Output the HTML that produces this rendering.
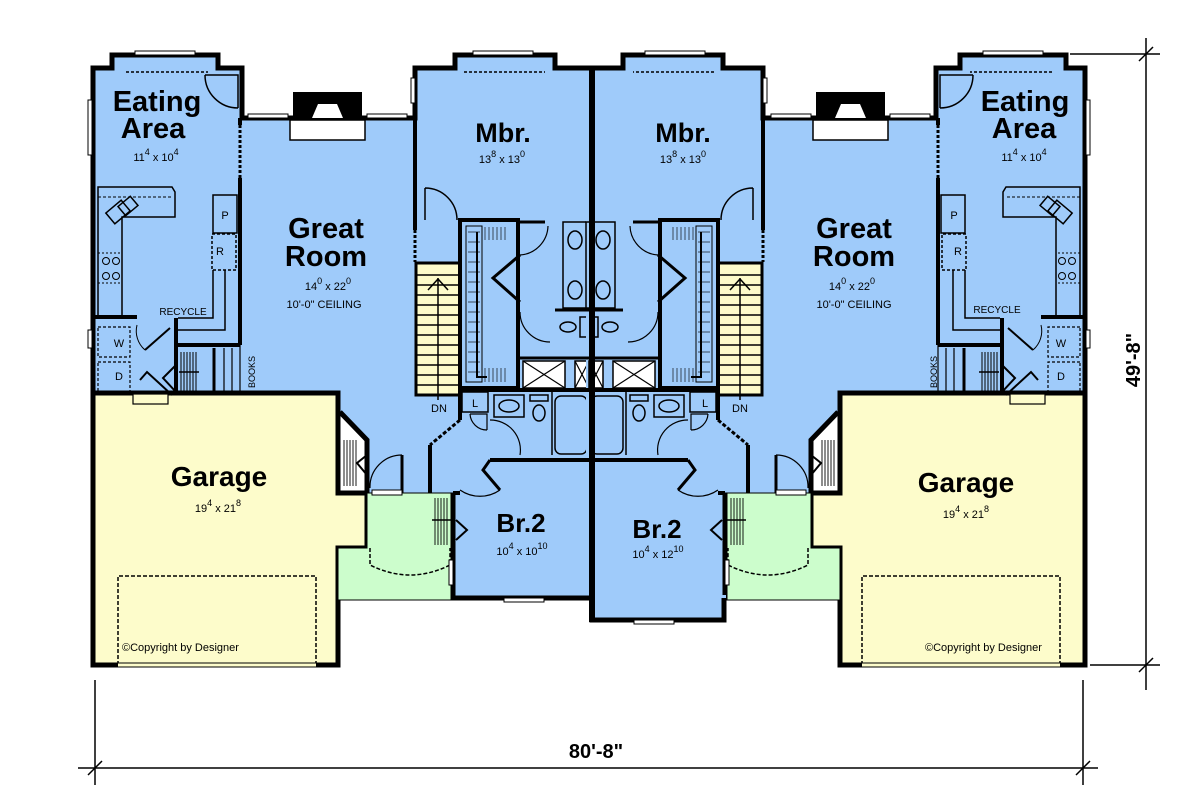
<!DOCTYPE html>
<html><head><meta charset="utf-8"><style>
html,body{margin:0;padding:0;background:#fff;}
svg{display:block;}
.t{font-family:"Liberation Sans",Arial,sans-serif;fill:#000;}
.b{font-weight:bold;}
</style></head><body>
<svg width="1200" height="801" viewBox="0 0 1200 801" xmlns="http://www.w3.org/2000/svg">
<defs>
<g id="L">
  <!-- blue floor -->
  <polygon points="93,68 112,68 112,55 218,55 218,68 242,68 242,118 415,118 415,68 455,68 455,55 555,55 555,68 592,68 592,598 453,598 453,493 367,493 367,440 338,412 338,393 93,393" fill="#9fcbfa"/>
  <!-- garage -->
  <polygon points="93,393 338,393 338,493 367,493 367,548 338,548 338,665 93,665" fill="#fdfccb" stroke="#000" stroke-width="5"/>
  <!-- porch -->
  <polygon points="367,493 453,493 453,600 338,600 338,548 367,548" fill="#ccfdcc" stroke="#000" stroke-width="1"/>
  <path d="M370,548 L370,565 Q410,585 450,565 L450,548" fill="none" stroke="#000" stroke-width="1.5" stroke-dasharray="4,2"/>
  <!-- outer walls -->
  <polyline points="93,393 93,68 112,68 112,55 218,55 218,68 242,68 242,118 415,118 415,68 455,68 455,55 555,55 555,68 592,68" fill="none" stroke="#000" stroke-width="5"/>
  <polyline points="338,400 338,393" fill="none" stroke="#000" stroke-width="5"/>
  <polyline points="453,493 453,598 592,598" fill="none" stroke="#000" stroke-width="5"/>
  <polyline points="367,493 367,440 340,412" fill="none" stroke="#000" stroke-width="5"/>
  <!-- windows -->
  <rect x="135" y="51" width="60" height="4" fill="#fff" stroke="#000" stroke-width="1"/>
  <rect x="473" y="51" width="60" height="4" fill="#fff" stroke="#000" stroke-width="1"/>
  <rect x="88" y="100" width="4" height="55" fill="#fff" stroke="#000" stroke-width="1"/>
  <rect x="248" y="114" width="40" height="4" fill="#fff" stroke="#000" stroke-width="1"/>
  <rect x="367" y="114" width="40" height="4" fill="#fff" stroke="#000" stroke-width="1"/>
  <rect x="411" y="78" width="4" height="25" fill="#fff" stroke="#000" stroke-width="1"/>
  <rect x="88" y="330" width="4" height="18" fill="#fff" stroke="#000" stroke-width="1"/>
  <rect x="504" y="598" width="40" height="4" fill="#fff" stroke="#000" stroke-width="1"/>
  <rect x="449" y="560" width="4" height="25" fill="#fff" stroke="#000" stroke-width="1"/>
  <line x1="126" y1="72" x2="208" y2="72" stroke="#000" stroke-width="1.5" stroke-dasharray="3,2"/>
  <line x1="464" y1="72" x2="545" y2="72" stroke="#000" stroke-width="1.5" stroke-dasharray="3,2"/>
  <!-- fireplace -->
  <rect x="293" y="92" width="69" height="26" fill="#000"/>
  <polygon points="312,118 343,118 337,104 318,104" fill="#fff"/>
  <rect x="290" y="120" width="75" height="20" fill="#fff" stroke="#000" stroke-width="1.5"/>
  <!-- eating door -->
  <path d="M205,75 L238,75 L238,108 M205,75 A33,33 0 0 0 238,108" fill="none" stroke="#000" stroke-width="1.5"/>
  <!-- eating/great wall -->
  <line x1="240" y1="118" x2="240" y2="125" stroke="#000" stroke-width="4"/>
  <line x1="240" y1="125" x2="240" y2="178" stroke="#000" stroke-width="3" stroke-dasharray="3,2"/>
  <line x1="240" y1="178" x2="240" y2="345" stroke="#000" stroke-width="4"/>
  <!-- kitchen counters -->
  <polygon points="98,187 172,187 175,192 175,217 122,217 122,318 98,318" fill="none" stroke="#000" stroke-width="1.5"/>
  <line x1="98" y1="197" x2="172" y2="197" stroke="#000" stroke-width="1" stroke-dasharray="3,2"/>
  <rect x="108" y="205" width="20" height="14" transform="rotate(-40 118 212)" fill="none" stroke="#000" stroke-width="1.5"/>
  <rect x="120" y="200" width="16" height="12" transform="rotate(-40 128 206)" fill="none" stroke="#000" stroke-width="1.5"/>
  <rect x="98" y="253" width="24" height="30" fill="none" stroke="#000" stroke-width="1" stroke-dasharray="2,2"/>
  <circle cx="106" cy="261" r="3.5" fill="none" stroke="#000"/><circle cx="116" cy="261" r="3.5" fill="none" stroke="#000"/>
  <circle cx="106" cy="276" r="3.5" fill="none" stroke="#000"/><circle cx="116" cy="276" r="3.5" fill="none" stroke="#000"/>
  <rect x="213" y="195" width="24" height="38" fill="none" stroke="#000" stroke-width="1.5"/>
  <rect x="212" y="234" width="24" height="36" fill="none" stroke="#000" stroke-width="1.5" stroke-dasharray="3,2"/>
  <polyline points="213,270 213,318 178,318" fill="none" stroke="#000" stroke-width="1.5"/>
  <polyline points="225,270 225,330 178,330" fill="none" stroke="#000" stroke-width="1.5"/>
  <line x1="178" y1="345" x2="240" y2="345" stroke="#000" stroke-width="4"/>
  <!-- laundry -->
  <line x1="93" y1="317" x2="137" y2="317" stroke="#000" stroke-width="4"/>
  <line x1="176" y1="318" x2="176" y2="393" stroke="#000" stroke-width="4"/>
  <rect x="98" y="327" width="32" height="30" fill="none" stroke="#000" stroke-width="1.2" stroke-dasharray="3,2"/>
  <rect x="98" y="362" width="32" height="30" fill="none" stroke="#000" stroke-width="1.2" stroke-dasharray="3,2"/>
  <line x1="145" y1="350" x2="170" y2="328" stroke="#000" stroke-width="2"/>
  <path d="M137,325 A25,25 0 0 0 145,350" fill="none" stroke="#000" stroke-width="1"/>
  <polyline points="172,395 147,372 140,380" fill="none" stroke="#000" stroke-width="2"/>
  <polyline points="176,365 163,378 176,392" fill="none" stroke="#000" stroke-width="2"/>
  <rect x="133" y="394" width="35" height="10" fill="#fdfccb" stroke="#000" stroke-width="1.2"/>
  <!-- closet hatch / books -->
  <g stroke="#000" stroke-width="1">
    <line x1="181" y1="352" x2="181" y2="391"/><line x1="184" y1="352" x2="184" y2="391"/><line x1="187" y1="352" x2="187" y2="391"/><line x1="190" y1="352" x2="190" y2="391"/><line x1="193" y1="352" x2="193" y2="391"/><line x1="196" y1="352" x2="196" y2="391"/>
  </g>
  <line x1="179" y1="372" x2="199" y2="372" stroke="#000" stroke-width="1.5"/>
  <line x1="214" y1="348" x2="214" y2="393" stroke="#000" stroke-width="3"/>
  <line x1="224" y1="348" x2="224" y2="393" stroke="#000" stroke-width="1.2"/>
  <line x1="232" y1="348" x2="232" y2="393" stroke="#000" stroke-width="1.2"/>
  <line x1="240" y1="345" x2="240" y2="393" stroke="#000" stroke-width="1.2"/>
  <!-- Mbr left wall -->
  <line x1="415" y1="118" x2="415" y2="230" stroke="#000" stroke-width="4"/>
  <line x1="415" y1="230" x2="415" y2="262" stroke="#000" stroke-width="3" stroke-dasharray="3,2"/>
  <path d="M425,188 L425,220 M425,188 A32,32 0 0 1 457,220" fill="none" stroke="#000" stroke-width="1.5"/>
  <!-- stairs -->
  <rect x="416" y="263" width="44" height="132" fill="#fdfbc9" stroke="#000" stroke-width="3"/>
  <g stroke="#000" stroke-width="1.5">
    <line x1="416" y1="275" x2="460" y2="275"/><line x1="416" y1="285" x2="460" y2="285"/><line x1="416" y1="295" x2="460" y2="295"/><line x1="416" y1="305" x2="460" y2="305"/><line x1="416" y1="315" x2="460" y2="315"/><line x1="416" y1="325" x2="460" y2="325"/><line x1="416" y1="335" x2="460" y2="335"/><line x1="416" y1="345" x2="460" y2="345"/><line x1="416" y1="355" x2="460" y2="355"/><line x1="416" y1="365" x2="460" y2="365"/><line x1="416" y1="375" x2="460" y2="375"/><line x1="416" y1="385" x2="460" y2="385"/>
    <line x1="438" y1="278" x2="438" y2="400"/>
    <polyline points="428,290 438,279 448,290" fill="none"/>
  </g>
  <!-- walk-in closet -->
  <rect x="460" y="220" width="58" height="168" fill="none" stroke="#000" stroke-width="4"/>
  <rect x="466" y="226" width="16" height="156" fill="none" stroke="#000" stroke-width="1"/>
  <g stroke="#000" stroke-width="0.8" opacity="0.8">
    <line x1="468" y1="232" x2="480" y2="232"/><line x1="468" y1="242" x2="480" y2="242"/><line x1="468" y1="252" x2="480" y2="252"/><line x1="468" y1="262" x2="480" y2="262"/><line x1="468" y1="272" x2="480" y2="272"/><line x1="468" y1="282" x2="480" y2="282"/><line x1="468" y1="292" x2="480" y2="292"/><line x1="468" y1="302" x2="480" y2="302"/><line x1="468" y1="312" x2="480" y2="312"/><line x1="468" y1="322" x2="480" y2="322"/><line x1="468" y1="332" x2="480" y2="332"/><line x1="468" y1="342" x2="480" y2="342"/><line x1="468" y1="352" x2="480" y2="352"/><line x1="468" y1="362" x2="480" y2="362"/><line x1="468" y1="372" x2="480" y2="372"/>
    <line x1="485" y1="227" x2="485" y2="240"/><line x1="489" y1="227" x2="489" y2="240"/><line x1="493" y1="227" x2="493" y2="240"/><line x1="497" y1="227" x2="497" y2="240"/><line x1="501" y1="227" x2="501" y2="240"/><line x1="505" y1="227" x2="505" y2="240"/>
    <line x1="485" y1="368" x2="485" y2="382"/><line x1="489" y1="368" x2="489" y2="382"/><line x1="493" y1="368" x2="493" y2="382"/><line x1="497" y1="368" x2="497" y2="382"/><line x1="501" y1="368" x2="501" y2="382"/><line x1="505" y1="368" x2="505" y2="382"/>
  </g>
  <polyline points="477,232 477,377 487,377" fill="none" stroke="#000" stroke-width="2"/>
  <!-- master bath -->
  <polyline points="518,222 545,222" fill="none" stroke="#000" stroke-width="3"/>
  <polyline points="520,255 493,278 520,302" fill="none" stroke="#000" stroke-width="3"/>
  <path d="M520,255 A30,30 0 0 0 548,226" fill="none" stroke="#000" stroke-width="1.2"/>
  <path d="M520,312 A30,30 0 0 0 550,342" fill="none" stroke="#000" stroke-width="1.2"/>
  <rect x="563" y="222" width="29" height="86" fill="none" stroke="#000" stroke-width="1.5"/>
  <ellipse cx="575" cy="240" rx="7" ry="9" fill="none" stroke="#000" stroke-width="1.5"/>
  <ellipse cx="575" cy="290" rx="7" ry="9" fill="none" stroke="#000" stroke-width="1.5"/>
  <line x1="555" y1="310" x2="592" y2="310" stroke="#000" stroke-width="3"/>
  <ellipse cx="568" cy="327" rx="8" ry="5" fill="none" stroke="#000" stroke-width="1.5"/>
  <rect x="580" y="317" width="8" height="20" fill="none" stroke="#000" stroke-width="1.5"/>
  <line x1="520" y1="358" x2="592" y2="358" stroke="#000" stroke-width="3"/>
  <rect x="523" y="361" width="42" height="27" fill="#fff" stroke="#000" stroke-width="1.5"/>
  <line x1="523" y1="361" x2="565" y2="388" stroke="#000" stroke-width="1.2"/><line x1="565" y1="361" x2="523" y2="388" stroke="#000" stroke-width="1.2"/>
  <rect x="575" y="361" width="14" height="27" fill="#fff" stroke="#000" stroke-width="1.5"/>
  <line x1="575" y1="361" x2="589" y2="388" stroke="#000" stroke-width="1.2"/><line x1="589" y1="361" x2="575" y2="388" stroke="#000" stroke-width="1.2"/>
  <line x1="460" y1="390" x2="592" y2="390" stroke="#000" stroke-width="4"/>
  <!-- lower bath -->
  <rect x="462" y="392" width="26" height="20" fill="none" stroke="#000" stroke-width="1.5"/>
  <rect x="494" y="395" width="30" height="22" fill="none" stroke="#000" stroke-width="1.5"/>
  <ellipse cx="509" cy="406" rx="10" ry="6" fill="none" stroke="#000" stroke-width="1.5"/>
  <rect x="530" y="395" width="18" height="6" fill="none" stroke="#000" stroke-width="1.5"/>
  <ellipse cx="539" cy="413" rx="6" ry="8" fill="none" stroke="#000" stroke-width="1.5"/>
  <rect x="555" y="396" width="32" height="58" rx="6" fill="none" stroke="#000" stroke-width="1.5"/>
  <line x1="552" y1="392" x2="552" y2="455" stroke="#000" stroke-width="1.5"/>
  <line x1="460" y1="390" x2="460" y2="420" stroke="#000" stroke-width="4"/>
  <path d="M470,414 L487,414 L487,430 M470,414 A17,17 0 0 0 487,430" fill="none" stroke="#000" stroke-width="1.2"/>
  <path d="M490,420 A30,30 0 0 1 520,455" fill="none" stroke="#000" stroke-width="1.2"/>
  <line x1="460" y1="420" x2="430" y2="445" stroke="#000" stroke-width="3" stroke-dasharray="4,2"/>
  <line x1="430" y1="445" x2="430" y2="493" stroke="#000" stroke-width="4"/>
  <!-- br2 walls -->
  <polyline points="490,460 592,460" fill="none" stroke="#000" stroke-width="4"/>
  <polyline points="490,460 483,470 500,490" fill="none" stroke="#000" stroke-width="3"/>
  <path d="M460,490 A35,35 0 0 0 500,490" fill="none" stroke="#000" stroke-width="1.2"/>
  <line x1="460" y1="493" x2="453" y2="493" stroke="#000" stroke-width="4"/>
  <g stroke="#000" stroke-width="0.9">
    <line x1="435" y1="498" x2="435" y2="545"/><line x1="438" y1="498" x2="438" y2="545"/><line x1="441" y1="498" x2="441" y2="545"/><line x1="444" y1="498" x2="444" y2="545"/><line x1="447" y1="498" x2="447" y2="545"/>
  </g>
  <line x1="432" y1="520" x2="452" y2="520" stroke="#000" stroke-width="1.5"/>
  <polyline points="456,520 467,530 456,540" fill="none" stroke="#000" stroke-width="2"/>
  <!-- garage entry area -->
  <line x1="402" y1="455" x2="402" y2="493" stroke="#000" stroke-width="3"/>
  <path d="M402,455 A32,32 0 0 0 370,488" fill="none" stroke="#000" stroke-width="1.2"/>
  <g stroke="#000" stroke-width="0.9">
    <line x1="344" y1="440" x2="344" y2="486"/><line x1="347" y1="440" x2="347" y2="486"/><line x1="350" y1="440" x2="350" y2="486"/><line x1="353" y1="440" x2="353" y2="486"/><line x1="356" y1="440" x2="356" y2="486"/>
  </g>
  <polyline points="367,455 357,463 367,475" fill="none" stroke="#000" stroke-width="2"/>
  <rect x="372" y="490" width="30" height="5" fill="#fff" stroke="#000" stroke-width="1"/>
  <!-- garage door -->
  <path d="M118,665 L118,576 L316,576 L316,665" fill="none" stroke="#000" stroke-width="1.5" stroke-dasharray="4,2"/>
  <line x1="118" y1="665" x2="316" y2="665" stroke="#fdfccb" stroke-width="3"/>
</g>
</defs>

<use href="#L"/>
<use href="#L" transform="translate(1178,0) scale(-1,1)"/>
<!-- right br2 extension -->
<rect x="592" y="595" width="134" height="25" fill="#9fcbfa"/>
<polyline points="592,598 592,620 724,620 724,598" fill="none" stroke="#000" stroke-width="5"/>
<rect x="634" y="620" width="40" height="4" fill="#fff" stroke="#000" stroke-width="1"/>
<!-- center wall -->
<line x1="592" y1="66" x2="592" y2="622" stroke="#000" stroke-width="6"/>

<!-- dimension lines -->
<g stroke="#000" stroke-width="1.5">
  <line x1="78" y1="768" x2="1098" y2="768"/>
  <line x1="95" y1="680" x2="95" y2="785"/>
  <line x1="1083" y1="680" x2="1083" y2="785"/>
  <line x1="88" y1="775" x2="102" y2="761"/>
  <line x1="1076" y1="775" x2="1090" y2="761"/>
  <line x1="1146" y1="38" x2="1146" y2="690"/>
  <line x1="1070" y1="54" x2="1160" y2="54"/>
  <line x1="1090" y1="665" x2="1160" y2="665"/>
  <line x1="1139" y1="61" x2="1153" y2="47"/>
  <line x1="1139" y1="672" x2="1153" y2="658"/>
</g>
<text class="t b" x="596" y="758" font-size="20" text-anchor="middle">80'-8"</text>
<text class="t b" x="1140" y="360" font-size="20" text-anchor="middle" transform="rotate(-90 1140 360)">49'-8"</text>

<!-- labels left -->
<g class="t" text-anchor="middle">
<text class="b" x="157" y="111" font-size="29">Eating</text>
<text class="b" x="153" y="138" font-size="29">Area</text>
<text x="156" y="161" font-size="11">11<tspan dy="-6" font-size="9">4</tspan><tspan dy="6"> x 10</tspan><tspan dy="-6" font-size="9">4</tspan></text>
<text class="b" x="326" y="238" font-size="29">Great</text>
<text class="b" x="326" y="266" font-size="29">Room</text>
<text x="328" y="290" font-size="11">14<tspan dy="-6" font-size="9">0</tspan><tspan dy="6"> x 22</tspan><tspan dy="-6" font-size="9">0</tspan></text>
<text x="324" y="308" font-size="11">10'-0" CEILING</text>
<text class="b" x="503" y="142" font-size="27">Mbr.</text>
<text x="502" y="163" font-size="11">13<tspan dy="-6" font-size="9">8</tspan><tspan dy="6"> x 13</tspan><tspan dy="-6" font-size="9">0</tspan></text>
<text class="b" x="219" y="486" font-size="28">Garage</text>
<text x="218" y="512" font-size="11">19<tspan dy="-6" font-size="9">4</tspan><tspan dy="6"> x 21</tspan><tspan dy="-6" font-size="9">8</tspan></text>
<text class="b" x="521" y="532" font-size="26">Br.2</text>
<text x="522" y="555" font-size="11">10<tspan dy="-6" font-size="9">4</tspan><tspan dy="6"> x 10</tspan><tspan dy="-6" font-size="9">10</tspan></text>
<text x="183" y="315" font-size="10">RECYCLE</text>
<text x="439" y="412" font-size="11">DN</text>
<text x="225" y="219" font-size="11">P</text>
<text x="220" y="255" font-size="11">R</text>
<text x="119" y="347" font-size="11">W</text>
<text x="119" y="380" font-size="11">D</text>
<text x="475" y="407" font-size="11">L</text>
</g>
<text class="t" x="255" y="388" font-size="9" transform="rotate(-90 255 388)">BOOKS</text>
<text class="t" x="122" y="651" font-size="11">©Copyright by Designer</text>

<!-- labels right -->
<g class="t" text-anchor="middle">
<text class="b" x="1025" y="111" font-size="29">Eating</text>
<text class="b" x="1024" y="138" font-size="29">Area</text>
<text x="1024" y="161" font-size="11">11<tspan dy="-6" font-size="9">4</tspan><tspan dy="6"> x 10</tspan><tspan dy="-6" font-size="9">4</tspan></text>
<text class="b" x="854" y="238" font-size="29">Great</text>
<text class="b" x="854" y="266" font-size="29">Room</text>
<text x="852" y="290" font-size="11">14<tspan dy="-6" font-size="9">0</tspan><tspan dy="6"> x 22</tspan><tspan dy="-6" font-size="9">0</tspan></text>
<text x="854" y="308" font-size="11">10'-0" CEILING</text>
<text class="b" x="683" y="142" font-size="27">Mbr.</text>
<text x="683" y="163" font-size="11">13<tspan dy="-6" font-size="9">8</tspan><tspan dy="6"> x 13</tspan><tspan dy="-6" font-size="9">0</tspan></text>
<text class="b" x="966" y="492" font-size="28">Garage</text>
<text x="966" y="518" font-size="11">19<tspan dy="-6" font-size="9">4</tspan><tspan dy="6"> x 21</tspan><tspan dy="-6" font-size="9">8</tspan></text>
<text class="b" x="657" y="538" font-size="26">Br.2</text>
<text x="658" y="558" font-size="11">10<tspan dy="-6" font-size="9">4</tspan><tspan dy="6"> x 12</tspan><tspan dy="-6" font-size="9">10</tspan></text>
<text x="997" y="313" font-size="10">RECYCLE</text>
<text x="740" y="412" font-size="11">DN</text>
<text x="954" y="219" font-size="11">P</text>
<text x="958" y="255" font-size="11">R</text>
<text x="1061" y="347" font-size="11">W</text>
<text x="1061" y="380" font-size="11">D</text>
<text x="705" y="407" font-size="11">L</text>
</g>
<text class="t" x="937" y="388" font-size="9" transform="rotate(-90 937 388)">BOOKS</text>
<text class="t" x="925" y="651" font-size="11">©Copyright by Designer</text>
</svg>
</body></html>
